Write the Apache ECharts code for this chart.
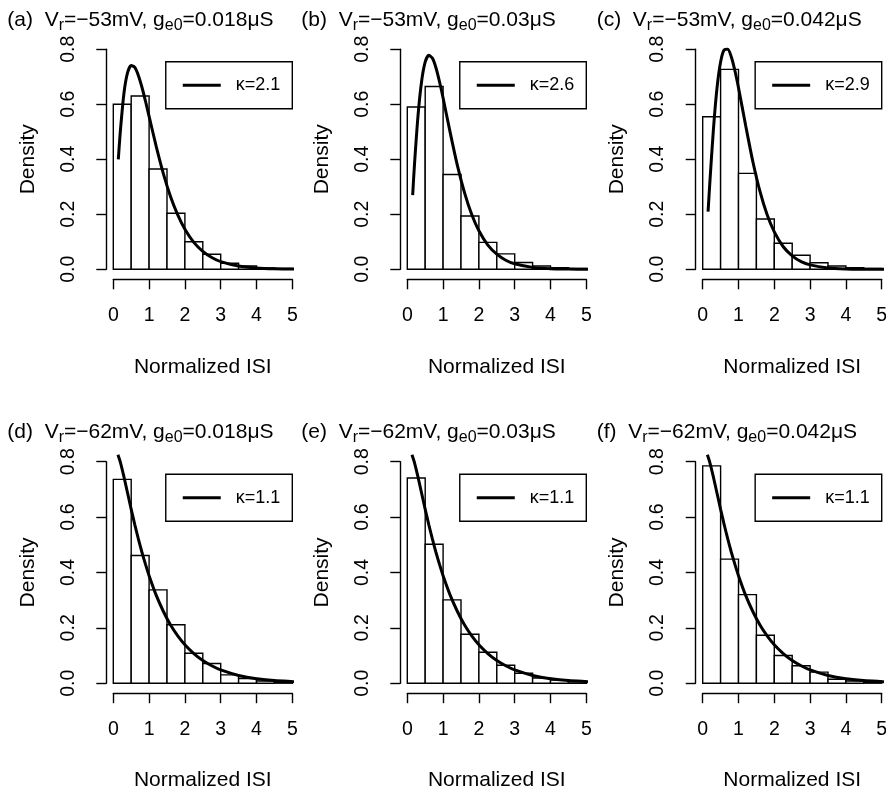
<!DOCTYPE html>
<html>
<head>
<meta charset="utf-8">
<script src="https://cdn.jsdelivr.net/npm/echarts@6/dist/echarts.min.js"></script>
<style>
html,body{margin:0;padding:0;background:#fff;}
#chart{width:886px;height:794px;}
</style>
</head>
<body>
<div id="chart"></div>
<script>
// ---------- data ----------
const panelLabels = ['(a)', '(b)', '(c)', '(d)', '(e)', '(f)'];
const vrValues = ['−53', '−53', '−53', '−62', '−62', '−62'];
const ge0Values = ['0.018', '0.03', '0.042', '0.018', '0.03', '0.042'];
const kappaValues = ['2.1', '2.6', '2.9', '1.1', '1.1', '1.1'];

const binEdges = [0, 0.5, 1, 1.5, 2, 2.5, 3, 3.5, 4, 4.5, 5];
const histA = [0.600, 0.630, 0.365, 0.204, 0.100, 0.055, 0.022, 0.012, 0.005, 0.003];
const histB = [0.590, 0.665, 0.345, 0.194, 0.098, 0.056, 0.025, 0.012, 0.006, 0.003];
const histC = [0.555, 0.727, 0.349, 0.183, 0.095, 0.051, 0.024, 0.012, 0.006, 0.003];
const histD = [0.736, 0.461, 0.337, 0.211, 0.108, 0.071, 0.030, 0.017, 0.008, 0.004];
const histE = [0.741, 0.502, 0.301, 0.177, 0.112, 0.065, 0.036, 0.019, 0.011, 0.006];
const histF = [0.785, 0.448, 0.320, 0.173, 0.100, 0.063, 0.040, 0.014, 0.008, 0.004];

const curveXA = [0.14, 0.2, 0.3, 0.4, 0.5, 0.6, 0.7, 0.8, 0.9, 1.0, 1.2, 1.4, 1.6, 1.8, 2.0, 2.25, 2.5, 2.75, 3.0, 3.5, 4.0, 4.5, 5.0, 5.2];
const curveYA = [0.400, 0.507, 0.643, 0.716, 0.741, 0.734, 0.705, 0.662, 0.611, 0.556, 0.446, 0.347, 0.264, 0.198, 0.146, 0.098, 0.065, 0.043, 0.028, 0.012, 0.005, 0.002, 0.001, 0.0005];
const curveXB = [0.15, 0.2, 0.3, 0.4, 0.5, 0.6, 0.7, 0.8, 0.9, 1.0, 1.2, 1.4, 1.6, 1.8, 2.0, 2.25, 2.5, 2.75, 3.0, 3.5, 4.0, 4.5, 5.0, 5.2];
const curveYB = [0.270, 0.380, 0.560, 0.684, 0.754, 0.778, 0.768, 0.733, 0.682, 0.623, 0.496, 0.377, 0.278, 0.199, 0.140, 0.088, 0.055, 0.033, 0.020, 0.007, 0.002, 0.001, 0.0002, 0.0001];
const curveXC = [0.15, 0.2, 0.3, 0.4, 0.5, 0.6, 0.7, 0.8, 0.9, 1.0, 1.2, 1.4, 1.6, 1.8, 2.0, 2.25, 2.5, 2.75, 3.0, 3.5, 4.0, 4.5, 5.0, 5.2];
const curveYC = [0.210, 0.316, 0.510, 0.660, 0.754, 0.798, 0.800, 0.772, 0.722, 0.660, 0.523, 0.392, 0.283, 0.198, 0.136, 0.082, 0.049, 0.028, 0.016, 0.005, 0.0015, 0.0005, 0.0001, 0.0001];
const curveXLow = [0.13, 0.2, 0.3, 0.4, 0.5, 0.6, 0.7, 0.8, 0.9, 1.0, 1.2, 1.4, 1.6, 1.8, 2.0, 2.25, 2.5, 2.75, 3.0, 3.5, 4.0, 4.5, 5.0, 5.2];
const curveYLow = [0.825, 0.797, 0.744, 0.686, 0.628, 0.573, 0.521, 0.473, 0.429, 0.388, 0.317, 0.259, 0.210, 0.171, 0.139, 0.107, 0.082, 0.063, 0.048, 0.028, 0.016, 0.010, 0.006, 0.0045];

const xTicks = [0, 1, 2, 3, 4, 5];
const yTicks = [0, 0.2, 0.4, 0.6, 0.8];

const hists = [histA, histB, histC, histD, histE, histF];
const curvesX = [curveXA, curveXB, curveXC, curveXLow, curveXLow, curveXLow];
const curvesY = [curveYA, curveYB, curveYC, curveYLow, curveYLow, curveYLow];

// ---------- layout ----------
const W = 886;
const FONT = '"Liberation Sans", Arial, Helvetica, sans-serif';
const colX0 = [113.3, 407.3, 702.7];
const plotW = 179;
const rowTop = [49.3, 461.7];
const rowH = [220, 221.5];

const grids = [], xAxes = [], yAxes = [], series = [], legends = [], titles = [];

for (let i = 0; i < 6; i++) {
  const col = i % 3, row = Math.floor(i / 3);
  const left = colX0[col], top = rowTop[row];
  const name = 'κ=' + kappaValues[i];

  grids.push({ left: left, top: top, width: plotW, height: rowH[row], outerBoundsMode: 'none', containLabel: false });

  xAxes.push({
    gridIndex: i, type: 'value', min: xTicks[0], max: xTicks[xTicks.length - 1], interval: 1,
    position: 'bottom', offset: 10,
    axisLine: { show: true, onZero: false, lineStyle: { color: '#000', width: 1.4 } },
    axisTick: { show: true, length: 10, lineStyle: { color: '#000', width: 1.4 } },
    axisLabel: { show: true, fontSize: 19.5, color: '#000', margin: 26, fontFamily: FONT,
      showMinLabel: true, showMaxLabel: true },
    splitLine: { show: false },
    name: 'Normalized ISI', nameLocation: 'middle', nameGap: 77,
    nameTextStyle: { fontSize: 21, color: '#000', fontFamily: FONT }
  });

  yAxes.push({
    gridIndex: i, type: 'value', min: yTicks[0], max: yTicks[yTicks.length - 1], interval: 0.2,
    position: 'left', offset: 7,
    axisLine: { show: true, onZero: false, lineStyle: { color: '#000', width: 1.4 } },
    axisTick: { show: true, length: 10, lineStyle: { color: '#000', width: 1.4 } },
    axisLabel: { show: true, rotate: 90, fontSize: 19.5, color: '#000', margin: 28, fontFamily: FONT,
      formatter: v => v.toFixed(1), showMinLabel: true, showMaxLabel: true },
    splitLine: { show: false },
    name: 'Density', nameLocation: 'middle', nameGap: 68,
    nameTextStyle: { fontSize: 21, color: '#000', fontFamily: FONT }
  });

  const h = hists[i];
  const barData = h.map((v, k) => [binEdges[k], binEdges[k + 1], v]);
  series.push({
    type: 'custom', name: 'hist' + i, xAxisIndex: i, yAxisIndex: i, z: 2,
    data: barData,
    encode: { x: [0, 1], y: 2 },
    renderItem: function (params, api) {
      const p0 = api.coord([api.value(0), api.value(2)]);
      const p1 = api.coord([api.value(1), 0]);
      return {
        type: 'rect',
        shape: { x: p0[0], y: p0[1], width: p1[0] - p0[0], height: p1[1] - p0[1] },
        style: { fill: '#fff', stroke: '#000', lineWidth: 1.4 }
      };
    },
    silent: true
  });

  const cx = curvesX[i], cy = curvesY[i];
  series.push({
    type: 'line', name: name, xAxisIndex: i, yAxisIndex: i, z: 5,
    data: cx.map((x, k) => [x, cy[k]]),
    smooth: 0.25, symbol: 'none', showSymbol: false, clip: false,
    lineStyle: { color: '#000', width: 3 },
    itemStyle: { color: '#000' },
    silent: true
  });

  legends.push({
    data: [{ name: name, icon: 'rect' }], right: W - (left + plotW), top: top + 12.5,
    orient: 'horizontal', selectedMode: false,
    borderColor: '#000', borderWidth: 1.4, borderRadius: 0,
    padding: [14, 12, 14, 17], itemWidth: 38, itemHeight: 3, itemGap: 0,
    itemStyle: { color: '#000', borderWidth: 0 },
    textStyle: { fontSize: 18, color: '#000', fontFamily: FONT, padding: [0, 0, 0, 10], lineHeight: 19 }
  });

  titles.push({
    text: panelLabels[i] + '  V{s|r}=' + vrValues[i] + 'mV, g{s|e0}=' + ge0Values[i] + 'μS',
    left: left - 106, top: top - 42, padding: 0,
    textStyle: {
      fontSize: 21, fontWeight: 'normal', color: '#000', fontFamily: FONT, lineHeight: 26,
      rich: { s: { fontSize: 16, lineHeight: 16, verticalAlign: 'bottom', color: '#000', fontFamily: FONT } }
    }
  });
}

const chart = echarts.init(document.getElementById('chart'), null, { renderer: 'canvas', width: 886, height: 794 });
chart.setOption({
  backgroundColor: '#fff',
  animation: false,
  textStyle: { fontFamily: FONT },
  title: titles,
  grid: grids,
  xAxis: xAxes,
  yAxis: yAxes,
  legend: legends,
  series: series
});
</script>
</body>
</html>
